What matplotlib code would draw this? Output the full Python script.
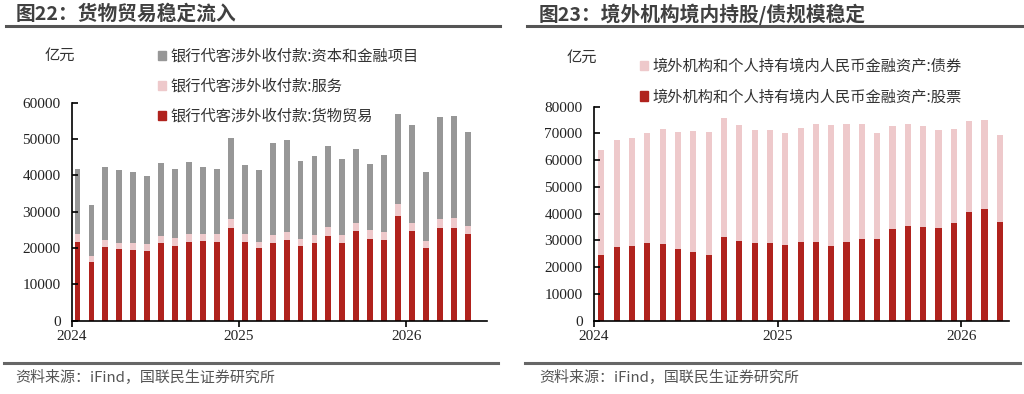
import matplotlib
matplotlib.use("Agg")
import matplotlib.pyplot as plt
from matplotlib.patches import Patch
from matplotlib.lines import Line2D
import numpy as np

plt.rcParams['font.family'] = ['Noto Sans CJK SC', 'DejaVu Sans']

# ---------------- data ----------------
# Left chart: 2024-01 .. 2026-05 (monthly)
left_goods = [21700, 16100, 20200, 19700, 19400, 19200, 21300, 20600, 21700, 21900,
              21700, 25400, 21600, 19900, 21500, 22200, 20600, 21500, 23400, 21500,
              24600, 22600, 22100, 28800, 24700, 20000, 25600, 25600, 23900]
left_goods_service = [23900, 17900, 22200, 21500, 21300, 21100, 23400, 22700, 23900, 23900,
                      23900, 28000, 23900, 21700, 23600, 24300, 22500, 23600, 25700, 23600,
                      26800, 25000, 24300, 32000, 27000, 22000, 28000, 28300, 26100]
left_total = [41700, 31800, 42400, 41400, 40800, 39900, 43400, 41800, 43600, 42400,
              41700, 50200, 42900, 41500, 48900, 49700, 44000, 45400, 48200, 44600,
              47200, 43100, 45600, 56900, 53900, 41000, 56100, 56300, 51800]
left_service = [s - g for s, g in zip(left_goods_service, left_goods)]
left_capital = [t - s for t, s in zip(left_total, left_goods_service)]
left_labels = ["银行代客涉外收付款:资本和金融项目", "银行代客涉外收付款:服务", "银行代客涉外收付款:货物贸易"]

# Right chart: 2024-01 .. 2026-03 (monthly)
right_stock = [24400, 27400, 27900, 29000, 28500, 26800, 25700, 24700, 31300, 29900,
               29200, 29000, 28200, 29400, 29400, 28000, 29400, 30500, 30400, 34100,
               35400, 35000, 34800, 36600, 40600, 41600, 37000]
right_total = [63800, 67500, 68200, 70300, 71500, 70700, 70900, 70500, 75800, 73000,
               71200, 71300, 70200, 72000, 73600, 73000, 73500, 73400, 70000, 72800,
               73600, 72900, 71200, 71700, 74600, 75100, 69300]
right_bond = [t - s for t, s in zip(right_total, right_stock)]
right_labels = ["境外机构和个人持有境内人民币金融资产:债券", "境外机构和个人持有境内人民币金融资产:股票"]

year_labels = ["2024", "2025", "2026"]
year_pos = [0, 12, 24]

RED = "#B0221D"
PINK = "#EEC9CB"
GRAY = "#979797"
TXT = "#404040"

W, H = 1024, 394
fig = plt.figure(figsize=(W / 100, H / 100), dpi=100)

def fx(px):
    return px / W

def fy(py):
    return 1 - py / H

serif = "Liberation Serif"

def style_axes(ax, ylim, yticks, xlim):
    ax.set_ylim(*ylim)
    ax.set_xlim(*xlim)
    ax.set_yticks(yticks)
    ax.set_yticklabels([str(v) for v in yticks], fontfamily=serif, fontsize=11, color="#222222")
    ax.set_xticks(year_pos)
    ax.set_xticklabels(year_labels, fontfamily=serif, fontsize=11, color="#222222")
    for s in ["top", "right"]:
        ax.spines[s].set_visible(False)
    for s in ["left", "bottom"]:
        ax.spines[s].set_linewidth(1.2)
        ax.spines[s].set_color("black")
    ax.tick_params(axis="y", direction="in", length=4, width=1.2, pad=8)
    ax.tick_params(axis="x", direction="out", length=4, width=1.2, pad=3)
    ax.patch.set_alpha(0)

# ---------------- left chart ----------------
axL = fig.add_axes([fx(71.7), fy(320.7), fx(487) - fx(71.7), fy(102.7) - fy(320.7)])
xl = np.arange(len(left_total)) + 0.42
bw = 0.42
axL.bar(xl, left_goods, bw, color=RED, linewidth=0)
axL.bar(xl, left_service, bw, bottom=left_goods, color=PINK, linewidth=0)
axL.bar(xl, left_capital, bw, bottom=left_goods_service, color=GRAY, linewidth=0)
style_axes(axL, (0, 60000), list(range(0, 60001, 10000)), (0, 29.8))

handlesL = [Patch(color=GRAY), Patch(color=PINK), Patch(color=RED)]
fig.legend(handlesL, left_labels, loc="upper left", bbox_to_anchor=(fx(150), fy(40)),
           frameon=False, fontsize=11, handlelength=0.55, handleheight=0.55,
           handletextpad=0.3, labelspacing=0.85, borderpad=0, labelcolor="#333333")

fig.text(fx(45), fy(55), "亿元", fontsize=11, color="#333333", va="center", ha="left")

# ---------------- right chart ----------------
axR = fig.add_axes([fx(593.7), fy(320.7), fx(1009) - fx(593.7), fy(106.7) - fy(320.7)])
xr = np.arange(len(right_total)) + 0.5
bw2 = 0.4
axR.bar(xr, right_stock, bw2, color=RED, linewidth=0)
axR.bar(xr, right_bond, bw2, bottom=right_stock, color=PINK, linewidth=0)
style_axes(axR, (0, 80000), list(range(0, 80001, 10000)), (0, 27.1))

handlesR = [Patch(color=PINK), Patch(color=RED)]
fig.legend(handlesR, right_labels, loc="upper left", bbox_to_anchor=(fx(632), fy(50)),
           frameon=False, fontsize=11, handlelength=0.55, handleheight=0.55,
           handletextpad=0.3, labelspacing=0.9, borderpad=0, labelcolor="#333333")

fig.text(fx(567), fy(57), "亿元", fontsize=11, color="#333333", va="center", ha="left")

# ---------------- titles, rules, footers ----------------
fig.text(fx(16), fy(14), "图22：货物贸易稳定流入", fontsize=14.2, fontweight="bold",
         color=TXT, va="center", ha="left")
fig.text(fx(539), fy(14), "图23：境外机构境内持股/债规模稳定", fontsize=14.2, fontweight="bold",
         color=TXT, va="center", ha="left")

for x0, x1 in [(6, 500), (527, 1022)]:
    fig.add_artist(Line2D([fx(x0), fx(x1)], [fy(25.5), fy(25.5)], color="#555555", lw=2.2))
    fig.add_artist(Line2D([fx(x0 - 2), fx(x1 - 2)], [fy(363), fy(363)], color="#666666", lw=2.2))

fig.text(fx(15), fy(378), "资料来源：iFind，国联民生证券研究所", fontsize=10.8, color="#555555",
         va="center", ha="left")
fig.text(fx(539), fy(378), "资料来源：iFind，国联民生证券研究所", fontsize=10.8, color="#555555",
         va="center", ha="left")

fig.savefig("out.png", dpi=100, facecolor="white")
